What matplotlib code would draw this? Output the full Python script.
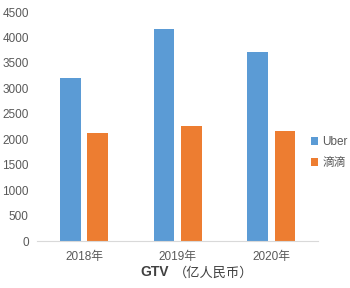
import matplotlib
matplotlib.use("Agg")
import matplotlib.pyplot as plt
import numpy as np

plt.rcParams['font.family'] = ['Liberation Sans', 'Noto Sans CJK SC', 'DejaVu Sans']

# data
years = ["2018年", "2019年", "2020年"]
uber = [3200, 4160, 3710]
didi = [2130, 2270, 2160]
yticks = [0, 500, 1000, 1500, 2000, 2500, 3000, 3500, 4000, 4500]

fig = plt.figure(figsize=(3.5, 2.88), dpi=100)
ax = fig.add_axes([0.106, 0.163, 0.803, 0.795])

x = np.arange(len(years))
w = 0.22
ax.bar(x - 0.145, uber, w, color='#5B9BD5', label='Uber')
ax.bar(x + 0.145, didi, w, color='#ED7D31', label='滴滴')

ax.set_xlim(-0.5, 2.5)
ax.set_ylim(0, 4500)
ax.set_yticks(yticks)
ax.set_xticks(x)
ax.set_xticklabels(years)
ax.tick_params(length=0, labelsize=8.5, colors='#595959')
ax.tick_params(axis='y', pad=6)
ax.tick_params(axis='x', pad=7)
for s in ['top', 'right', 'left']:
    ax.spines[s].set_visible(False)
ax.spines['bottom'].set_color('#D9D9D9')

# x axis title: bold GTV plus unit
fig.text(0.483, 0.04, "GTV", fontsize=10, fontweight='bold', color='#404040', ha='right', va='baseline')
fig.text(0.497, 0.04, "（亿人民币）", fontsize=9.5, color='#404040', ha='left', va='baseline')

ax.legend(loc='upper left', bbox_to_anchor=(0.888, 0.528), bbox_transform=fig.transFigure,
          frameon=False, fontsize=8.5, handlelength=0.65, handleheight=0.65,
          handletextpad=0.35, labelspacing=0.8, labelcolor='#595959',
          borderpad=0, borderaxespad=0)

fig.savefig("out.png", dpi=100)
